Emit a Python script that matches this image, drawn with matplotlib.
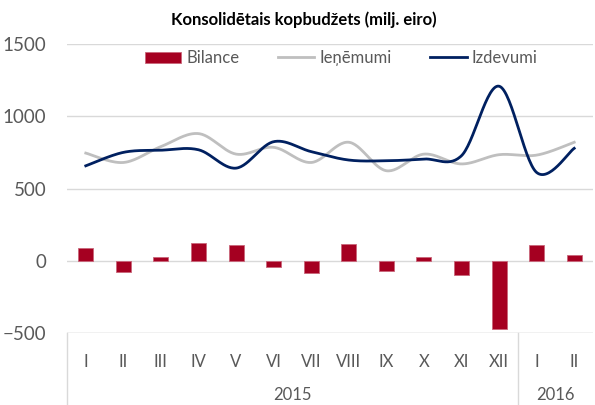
import numpy as np
import matplotlib
matplotlib.use('Agg')
import matplotlib.pyplot as plt
import matplotlib.transforms as mtransforms

# --- Dati (milj. eiro) ---
months = ['I', 'II', 'III', 'IV', 'V', 'VI', 'VII', 'VIII', 'IX', 'X', 'XI', 'XII', 'I', 'II']
years = ['2015', '2016']
year_counts = [12, 2]
bilance = [90, -81, 25, 125, 106, -41, -85, 117, -74, 25, -101, -475, 106, 41]
ienemumi = [745, 680, 790, 880, 738, 785, 680, 820, 623, 738, 670, 734, 731, 820]
izdevumi = [657, 750, 765, 768, 641, 824, 755, 697, 692, 704, 727, 1208, 611, 778]

plt.rcParams['font.family'] = ['Lato', 'DejaVu Sans']
grey_txt = '#595959'


def smooth(y, n=30):
    # Catmull-Rom gludināšana, līdzīgi kā Excel "smoothed line"
    y = np.asarray(y, dtype=float)
    x = np.arange(len(y), dtype=float)
    px = np.concatenate([[x[0]], x, [x[-1]]])
    py = np.concatenate([[y[0]], y, [y[-1]]])
    xs, ys = [], []
    for i in range(1, len(px) - 2):
        t = np.linspace(0, 1, n, endpoint=False)
        for p, out in ((px, xs), (py, ys)):
            p0, p1, p2, p3 = p[i - 1], p[i], p[i + 1], p[i + 2]
            out.extend(0.5 * ((2 * p1) + (-p0 + p2) * t
                              + (2 * p0 - 5 * p1 + 4 * p2 - p3) * t ** 2
                              + (-p0 + 3 * p1 - 3 * p2 + p3) * t ** 3))
    xs.append(x[-1])
    ys.append(y[-1])
    return np.array(xs), np.array(ys)


fig = plt.figure(figsize=(5.95, 4.05), dpi=100)
ax = fig.add_axes([67 / 595, 72 / 405, 526 / 595, 289 / 405])

x = np.arange(len(months))
h_bar = ax.bar(x, bilance, width=0.4, color='#A50021', edgecolor='#C9667A', linewidth=0.6,
               label='Bilance', zorder=2)
sx, sy = smooth(ienemumi)
h_ien, = ax.plot(sx, sy, color='#BFBFBF', lw=2.0, label='Ieņēmumi', zorder=3)
sx, sy = smooth(izdevumi)
h_izd, = ax.plot(sx, sy, color='#002060', lw=2.0, label='Izdevumi', zorder=4)

ax.set_xlim(-0.5, len(months) - 0.5)
ax.set_ylim(-500, 1500)
ax.set_yticks([-500, 0, 500, 1000, 1500])
ax.grid(axis='y', color='#D9D9D9', lw=1.0, zorder=0)
ax.set_axisbelow(True)
for s in ['top', 'right', 'left', 'bottom']:
    ax.spines[s].set_visible(False)
ax.axhline(-500, color='#D9D9D9', lw=1.0, zorder=1)
ax.tick_params(axis='y', length=0, labelsize=13.5, labelcolor=grey_txt, pad=15)
ax.tick_params(axis='x', length=0, labelsize=12, labelcolor=grey_txt, pad=15)
ax.set_xticks(x)
ax.set_xticklabels(months)

# gadu līmenis un atdalītāji
trans = mtransforms.blended_transform_factory(ax.transData, ax.transAxes)
start = 0
bounds = [-0.5]
for yr, cnt in zip(years, year_counts):
    mid = start + (cnt - 1) / 2
    ax.text(mid, -0.215, yr, transform=trans, ha='center', va='center',
            fontsize=12, color=grey_txt)
    start += cnt
    bounds.append(start - 0.5)
for b in bounds[:-1]:
    ax.plot([b, b], [0, -0.26], transform=trans, color='#D9D9D9', lw=1.0,
            clip_on=False)

ax.set_title('Konsolidētais kopbudžets (milj. eiro)', fontsize=12, fontweight='bold',
             color='black', pad=14)
ax.title.set_position((0.45, 1))

ax.legend([h_bar, h_ien, h_izd], ['Bilance', 'Ieņēmumi', 'Izdevumi'],
          loc='upper center', bbox_to_anchor=(0.521, 1.03), ncol=3, frameon=False,
          fontsize=12, labelcolor=grey_txt, handlelength=2.2, handletextpad=0.3,
          columnspacing=2.3)

fig.savefig('out.png', dpi=100)
